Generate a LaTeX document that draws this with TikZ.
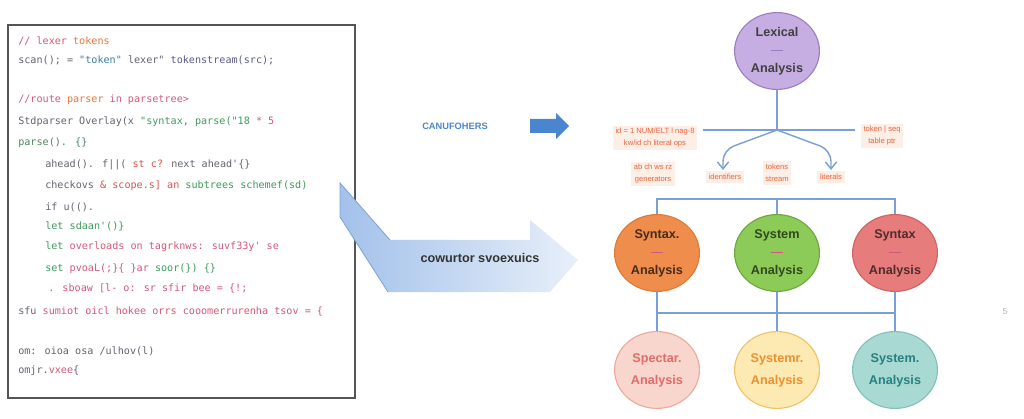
\documentclass[tikz,border=0pt]{standalone}
\usepackage{fontspec}
\setmainfont{Liberation Sans}
\newfontfamily\codefont{DejaVu Sans Mono}
\usetikzlibrary{shapes.geometric,arrows.meta}

\definecolor{codepink}{HTML}{D2587A}
\definecolor{codered}{HTML}{D9534F}
\definecolor{codeorange}{HTML}{E8743B}
\definecolor{codegray}{HTML}{66626F}
\definecolor{codegreen}{HTML}{3F9A5A}
\definecolor{codeteal}{HTML}{3A7FA0}
\definecolor{codeslate}{HTML}{5A5A8A}
\definecolor{panelgray}{HTML}{555555}
\definecolor{linkblue}{HTML}{7A9FD6}
\definecolor{fwdblue}{HTML}{4A86D0}
\definecolor{flowblue}{HTML}{A3C1EA}
\definecolor{flowedge}{HTML}{7FA3D8}
\definecolor{notered}{HTML}{E8643C}
\definecolor{notefill}{HTML}{FDEEE6}
\definecolor{lexfill}{HTML}{C7AEE2}
\definecolor{lexedge}{HTML}{9A80C2}
\definecolor{orfill}{HTML}{EF8E4C}
\definecolor{oredge}{HTML}{DE7A36}
\definecolor{grfill}{HTML}{8DCB58}
\definecolor{gredge}{HTML}{6CA83C}
\definecolor{rdfill}{HTML}{E67C7B}
\definecolor{rdedge}{HTML}{D06262}
\definecolor{pkfill}{HTML}{F9D6CD}
\definecolor{pkedge}{HTML}{EEA99A}
\definecolor{ylfill}{HTML}{FDEAB3}
\definecolor{yledge}{HTML}{F0C266}
\definecolor{tlfill}{HTML}{A8DAD3}
\definecolor{tledge}{HTML}{82C0B8}

% little stroke between the two words of a phase
\newcommand{\phasedash}[1]{{\color{#1}\rule[2.5pt]{9pt}{0.6pt}}}

\begin{document}
\begin{tikzpicture}[x=0.025cm, y=-0.025cm,
    codeline/.style={anchor=west, inner sep=0pt, font=\codefont\fontsize{7.2}{9}\selectfont},
    phase/.style={ellipse, draw, line width=0.8pt, minimum width=2.12cm, minimum height=1.92cm,
      align=center, inner sep=0pt, font=\fontsize{9}{12.8}\selectfont\bfseries},
    note/.style={fill=notefill, text=notered, inner sep=2pt, align=center,
      font=\fontsize{5.4}{8.5}\selectfont},
    link/.style={draw=linkblue, line width=1pt}]

    \useasboundingbox (0,0) rectangle (1024,419);

    % source listing
    \draw[panelgray, line width=1.1pt, fill=white] (8,25) rectangle (355,398);
    \node[codeline] (c1) at (18,41) {{\color{codepink}// lexer} {\color{codeorange}tokens}};
    \node[codeline] (c2) at (18,60) {{\color{codegray}scan(); =} {\color{codeteal}"token"} {\color{codegray}lexer"} {\color{codeslate}tokenstream(src);}};
    \node[codeline] (c4) at (18,100) {{\color{codepink}//route} {\color{codeorange}parser} {\color{codepink}in parsetree>}};
    \node[codeline] (c5) at (18,122) {{\color{codegray}Stdparser Overlay(x} {\color{codegreen}"syntax, parse("18} {\color{codepink}* 5}};
    \node[codeline] (c6) at (18,143) {{\color{codegreen!60!codegray}parse(). \{\}}};
    \node[codeline] (c7) at (45,165) {{\color{codegray}ahead(). f||(} {\color{codered}st c?} {\color{codegray}next ahead'\{\}}};
    \node[codeline] (c8) at (45,186) {{\color{codegray}checkovs} {\color{codered}\& scope.s] an} {\color{codegreen}subtrees schemef(sd)}};
    \node[codeline] (c9) at (45,207) {{\color{codegray}if u(().}};
    \node[codeline] (c10) at (45,226) {{\color{codegreen}let sdaan'()\}}};
    \node[codeline] (c11) at (45,247) {{\color{codegreen}let} {\color{codepink}overloads on tagrknws: suvf33y' se}};
    \node[codeline] (c12) at (45,269) {{\color{codegreen}set} {\color{codepink}pvoaL(;\}\{ \}ar} {\color{codegreen}soor(\}) \{\}}};
    \node[codeline] (c13) at (48,288) {{\color{codepink}. sboaw [l- o: sr  sfir bee = \{!;}};
    \node[codeline] (c14) at (18,311) {{\color{codegray}sfu} {\color{codepink}sumiot oicl hokee orrs cooomerrurenha tsov = \{}};
    \node[codeline] (c15) at (18,351) {{\color{codegray}om: oioa osa /ulhov(l)}};
    \node[codeline] (c16) at (18,371) {{\color{codegray}omjr.}{\color{codepink}vxee}{\color{codegray}\{}};

    % arrows between listing and tree
    \node[text=fwdblue, font=\fontsize{6.6}{8}\selectfont\bfseries] (fwdlbl) at (455,126) {CANUFOHERS};
    \fill[fwdblue] (530,119) -- (556,119) -- (556,113) -- (569,126) -- (556,139) -- (556,133) -- (530,133) -- cycle;
    \shade[left color=flowblue, right color=flowblue!25] (340,183) -- (390,240) -- (530,240) -- (530,220)
      -- (578,260) -- (550,292) -- (388,292) -- (340,217) -- cycle;
    \draw[flowedge, line width=0.6pt] (390,240) -- (340,183) -- (340,217) -- (388,292);
    \node[text=black!80, font=\fontsize{9}{10}\selectfont\bfseries] (flowlbl) at (480,258) {cowurtor svoexuics};

    % tree of phases
    \node[phase, fill=lexfill, draw=lexedge, text=black!75] (lex) at (777,51) {Lexical\\\phasedash{lexedge}\\Analysis};
    \coordinate (hub) at (777,130);
    \coordinate (hubl) at (703,130);
    \coordinate (hubr) at (855,130);
    \coordinate (bendl) at (723,150);
    \coordinate (tipl) at (723,170);
    \coordinate (bendr) at (831,150);
    \coordinate (tipr) at (831,170);
    \draw[link] (lex) -- (hub);
    \draw[link] (hubl) -- (hubr);
    \draw[link, -{Straight Barb[length=5pt, width=8pt]}, rounded corners=8] (hub) -- (bendl) -- (tipl);
    \draw[link, -{Straight Barb[length=5pt, width=8pt]}, rounded corners=8] (hub) -- (bendr) -- (tipr);

    \node[note] (n1) at (655,138) {id = 1 NUM/ELT l nag-8\\kw/id ch literal ops};
    \node[note] (n2) at (653,174) {ab ch ws rz\\generators};
    \node[note] (n3) at (725,177) {identifiers};
    \node[note] (n4) at (777,173) {tokens\\stream};
    \node[note] (n5) at (831,177) {literals};
    \node[note] (n6) at (882,136) {token | seq\\table ptr};

    \node[phase, fill=orfill, draw=oredge, text=black!70!orfill] (syn1) at (657,253) {Syntax.\\\phasedash{codepink}\\Analysis};
    \node[phase, fill=grfill, draw=gredge, text=black!65!grfill] (syn2) at (777,253) {System\\\phasedash{codepink}\\Analysis};
    \node[phase, fill=rdfill, draw=rdedge, text=black!65!rdfill] (syn3) at (895,253) {Syntax\\\phasedash{codepink}\\Analysis};
    \draw[link] (syn1.north) -- ++(0,-15) -| (syn3.north);
    \draw[link] (syn2.north) -- ++(0,-15);

    \node[phase, fill=pkfill, draw=pkedge, text=codered!85, font=\fontsize{9}{15.5}\selectfont\bfseries] (sem1) at (657,370) {Spectar.\\Analysis};
    \node[phase, fill=ylfill, draw=yledge, text=codeorange!80!yellow, font=\fontsize{9}{15.5}\selectfont\bfseries] (sem2) at (777,370) {Systemr.\\Analysis};
    \node[phase, fill=tlfill, draw=tledge, text=teal!70!gray, font=\fontsize{9}{15.5}\selectfont\bfseries] (sem3) at (895,370) {System.\\Analysis};
    \coordinate (bus) at (777,313);
    \draw[link] (syn1) -- (sem1);
    \draw[link] (syn2) -- (sem2);
    \draw[link] (syn3) -- (sem3);
    \draw[link] (syn1 |- bus) -- (syn3 |- bus);

    \node[text=gray!60, font=\fontsize{6}{6}\selectfont] (mark) at (1005,312) {5};
\end{tikzpicture}
\end{document}
